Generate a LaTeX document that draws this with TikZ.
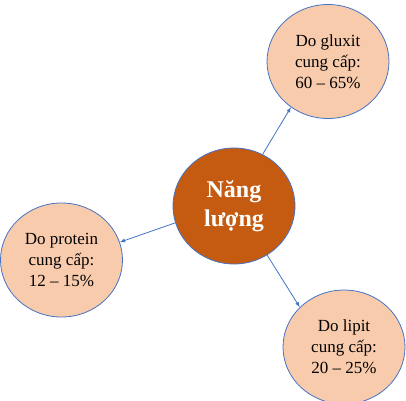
\documentclass[tikz,border=0pt]{standalone}
\usepackage{fontspec}
\setmainfont{Liberation Serif}
\usetikzlibrary{arrows,shapes.geometric}
\definecolor{peach}{HTML}{F8CBAD}
\definecolor{rust}{HTML}{C55A11}
\definecolor{edgeblue}{HTML}{4472C4}

\begin{document}
\begin{tikzpicture}[x=1pt,y=1pt,
		VertexStyle/.style={ellipse,draw=edgeblue,line width=0.8pt,fill=peach,inner sep=0pt,
			minimum width=122pt,minimum height=114pt,align=center,font=\fontsize{17}{21}\selectfont},
		EdgeStyle/.style={draw=edgeblue,line width=0.8pt,-latex}]
	\useasboundingbox (0,0) rectangle (406,400);
	\begin{scope}[VertexStyle/.append style = {fill=rust,text=white,minimum height=116pt,font=\bfseries\fontsize{24}{29}\selectfont}]
		\node[VertexStyle] (E) at (234,194) {Năng\\lượng};
	\end{scope}
		\node[VertexStyle] (G) at (328,338.5) {Do gluxit\\cung cấp:\\60 -- 65\%};
		\node[VertexStyle] (P) at (61.5,140) {Do protein\\cung cấp:\\12 -- 15\%};
		\node[VertexStyle] (L) at (344,53) {Do lipit\\cung cấp:\\20 -- 25\%};
	%	arrows start on the rim of the middle circle
		\draw[EdgeStyle] (E.61) -- (G.231);
		\draw[EdgeStyle] (E.196) -- (P.17);
		\draw[EdgeStyle] (E.304) -- (L.138);
	\end{tikzpicture}
\end{document}
